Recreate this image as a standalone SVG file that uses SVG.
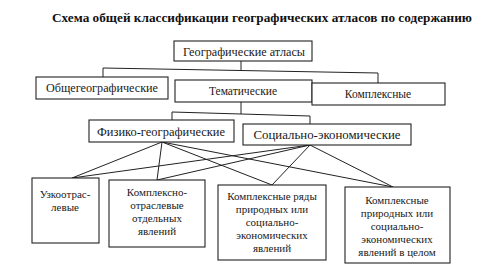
<svg xmlns="http://www.w3.org/2000/svg" width="481" height="276" viewBox="0 0 481 276">
<style>
.box{fill:#fff;stroke:#222;stroke-width:1.1}
.t{font-family:'Liberation Serif','DejaVu Serif','Times New Roman',serif;font-size:11.5px;fill:#1a1a1a;text-anchor:middle}
.m{font-size:11px}
.title{font-family:'Liberation Serif','DejaVu Serif','Times New Roman',serif;font-size:13px;font-weight:bold;fill:#111;text-anchor:middle}
.c line{stroke:#222;stroke-width:1}
</style>
<rect width="481" height="276" fill="#fff"/>
<text class="title" x="262" y="22" textLength="420" lengthAdjust="spacingAndGlyphs">Схема общей классификации географических атласов по содержанию</text>
<g class="c" id="connectors">
<line x1="241" y1="61" x2="241" y2="70"/>
<line x1="103" y1="68" x2="378" y2="73"/>
<line x1="103" y1="68" x2="103" y2="77"/>
<line x1="378" y1="73" x2="378" y2="83"/>
<line x1="241" y1="102" x2="241" y2="114"/>
<line x1="172" y1="112" x2="310" y2="116"/>
<line x1="172" y1="112" x2="172" y2="120"/>
<line x1="310" y1="116" x2="310" y2="124"/>
<line x1="162" y1="142" x2="72" y2="178"/>
<line x1="162" y1="142" x2="157" y2="180"/>
<line x1="162" y1="142" x2="272" y2="185"/>
<line x1="162" y1="142" x2="393" y2="187"/>
<line x1="310" y1="145" x2="72" y2="178"/>
<line x1="310" y1="145" x2="157" y2="180"/>
<line x1="310" y1="145" x2="272" y2="185"/>
<line x1="310" y1="145" x2="393" y2="187"/>
</g>
<g id="geo">
<rect class="box" x="174" y="41" width="138" height="20"/>
<text class="t" x="244" y="55.5" textLength="122" lengthAdjust="spacingAndGlyphs">Географические атласы</text>
</g>
<g id="obsh">
<rect class="box" x="36" y="77" width="132" height="22"/>
<text class="t" x="102" y="92" textLength="112" lengthAdjust="spacingAndGlyphs">Общегеографические</text>
</g>
<g id="tem">
<rect class="box" x="175" y="80" width="137" height="22"/>
<text class="t" x="243" y="95">Тематические</text>
</g>
<g id="kompl">
<rect class="box" x="312" y="83" width="133" height="22"/>
<text class="t" x="378" y="98">Комплексные</text>
</g>
<g id="fiz">
<rect class="box" x="89" y="120" width="145" height="22"/>
<text class="t" x="161" y="135.5" textLength="128" lengthAdjust="spacingAndGlyphs">Физико-географические</text>
</g>
<g id="soc">
<rect class="box" x="243" y="124" width="168" height="21"/>
<text class="t" x="327" y="139" textLength="147" lengthAdjust="spacingAndGlyphs">Социально-экономические</text>
</g>
<g id="uzko">
<rect class="box" x="32" y="178" width="67" height="65"/>
<text class="t m" x="65" y="198">Узкоотрас-</text>
<text class="t m" x="65" y="211">левые</text>
</g>
<g id="komplotr">
<rect class="box" x="109" y="180" width="96" height="67"/>
<text class="t m" x="157" y="196">Комплексно-</text>
<text class="t m" x="157" y="209">отраслевые</text>
<text class="t m" x="157" y="222">отдельных</text>
<text class="t m" x="157" y="235">явлений</text>
</g>
<g id="ryady">
<rect class="box" x="218" y="185" width="108" height="75"/>
<text class="t m" x="272" y="200">Комплексные ряды</text>
<text class="t m" x="272" y="213">природных или</text>
<text class="t m" x="272" y="226">социально-</text>
<text class="t m" x="272" y="239">экономических</text>
<text class="t m" x="272" y="252">явлений</text>
</g>
<g id="celom">
<rect class="box" x="345" y="187" width="105" height="76"/>
<text class="t m" x="397" y="204">Комплексные</text>
<text class="t m" x="397" y="217">природных или</text>
<text class="t m" x="397" y="230">социально-</text>
<text class="t m" x="397" y="243">экономических</text>
<text class="t m" x="397" y="256">явлений в целом</text>
</g>
</svg>
